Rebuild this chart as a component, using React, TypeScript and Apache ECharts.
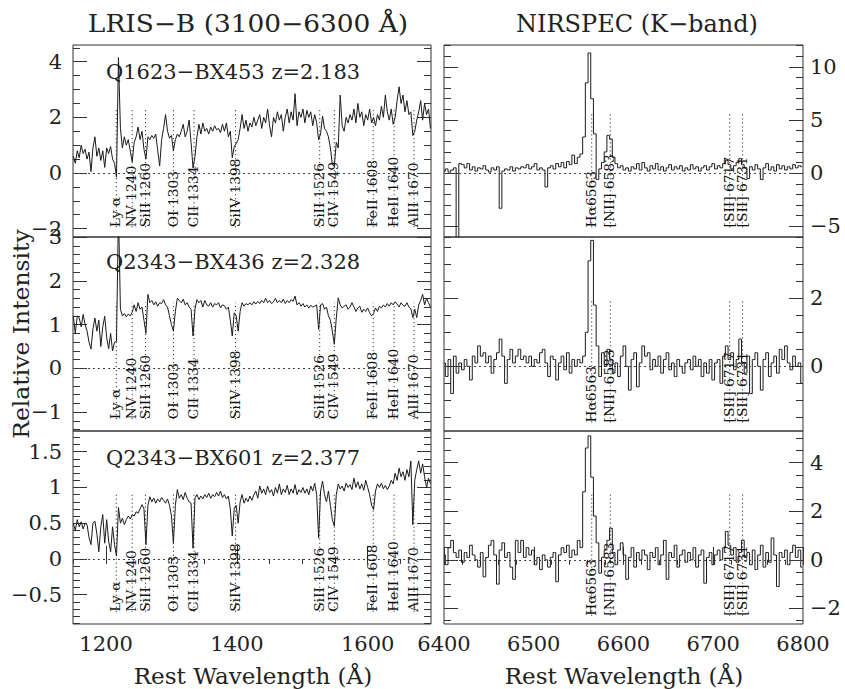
import React, { useEffect, useRef } from "react";
import * as echarts from "echarts";

// Wavelength sampling of the spectra (Angstrom)
const UV_START = 1150;
const UV_STEP = 3;
const NIR_START = 6400;
const NIR_STEP = 3;

// LRIS-B rest-frame UV spectra (relative intensity)
const bx453Uv = [
  0.6, 0.35, 0.8, 0.55, 1.0, 0.7, 0.85, 0.5, 0.75, 0.05,
  0.9, 1.3, 0.6, 0.9, 0.45, 0.8, 0.2, 0.9, 0.7, 0.95,
  0.5, 0.35, -0.15, 4.15, 1.6, 0.9, 1.3, 1.0, 1.2, 0.8,
  0.4, 1.1, 1.3, 1.65, 1.2, 1.5, 0.85, 0.5, 1.3, 1.2,
  1.35, 1.25, 1.4, 0.8, 0.25, 1.2, 1.6, 2.1, 1.5, 1.25,
  1.35, 0.8, 1.2, 1.4, 1.3, 1.5, 1.75, 1.3, 1.5, 1.9,
  1.1, 0.18, 0.6, 1.3, 1.75, 1.4, 1.8, 1.5, 1.6, 1.4,
  1.65, 1.5, 1.7, 1.55, 1.6, 1.45, 1.75, 1.5, 1.8, 1.3,
  1.5, 0.55, 0.95, 1.05, 1.2, 1.6, 2.1, 1.6, 1.9, 1.5,
  1.8, 1.65, 2.0, 1.7, 1.9, 2.1, 1.6, 2.0, 1.8, 2.3,
  1.7, 1.3, 2.0, 1.8, 2.2, 1.9, 2.1, 1.5, 2.0, 2.3,
  1.8, 2.2, 1.9, 2.85, 1.7, 2.2, 2.0, 2.3, 1.8, 2.25,
  2.0, 2.2, 1.7, 2.1, 1.8, 1.2, 1.4, 2.05, 1.6, 1.5,
  1.3, 0.9, 0.3, 0.25, 1.1, 0.9, 2.8, 1.7, 1.5, 2.0,
  1.8, 2.1, 1.9, 2.3, 1.8, 2.5, 2.0, 2.2, 1.7, 2.1,
  1.9, 2.3, 1.8, 2.0, 1.7, 2.1, 1.9, 2.4, 2.0, 2.8,
  2.2, 1.9, 2.3, 1.75, 2.0, 2.6, 3.1, 2.5, 2.8, 2.2,
  2.6, 2.1, 2.2, 1.35, 1.5, 1.9, 2.2, 2.6, 1.9, 2.5,
  2.1, 2.3, 1.6,
];
const bx436Uv = [
  1.2, 0.8, 1.2, 1.15, 0.95, 1.23, 1.0, 0.85, 0.6, 0.44,
  0.9, 1.15, 0.85, 1.1, 0.5, 0.95, 1.19, 0.7, 0.45, 0.8,
  0.4, 0.6, 0.62, 3.6, 1.35, 1.2, 1.25, 1.18, 1.24, 1.2,
  1.28, 1.45, 1.3, 1.5, 1.35, 1.4, 1.1, 0.8, 1.69, 1.5,
  1.55, 1.45, 1.52, 1.42, 1.5, 1.48, 1.57, 1.45, 1.4, 1.2,
  1.0, 0.85, 1.3, 1.6, 1.55, 1.5, 1.58, 1.45, 1.5, 1.4,
  1.35, 0.74, 1.35, 1.57, 1.5, 1.55, 1.4, 1.55, 1.45, 1.42,
  1.5, 1.4, 1.48, 1.45, 1.5, 1.38, 1.45, 1.43, 1.35, 1.4,
  1.1, 0.74, 1.27, 1.2, 0.85, 1.3, 1.5, 1.42, 1.48, 1.45,
  1.5, 1.45, 1.52, 1.47, 1.53, 1.48, 1.55, 1.5, 1.6, 1.5,
  1.55, 1.48, 1.52, 1.6, 1.5, 1.55, 1.5, 1.58, 1.48, 1.55,
  1.5, 1.57, 1.53, 1.65, 1.45, 1.5, 1.42, 1.48, 1.4, 1.45,
  1.38, 1.44, 1.4, 1.42, 1.45, 0.89, 1.45, 1.48, 1.35, 1.4,
  1.2, 1.1, 0.85, 0.55, 1.15, 1.61, 1.45, 1.38, 1.42, 1.45,
  1.35, 1.4, 1.5, 1.4, 1.3, 1.38, 1.42, 1.28, 1.35, 1.3,
  1.38, 1.27, 1.2, 1.25, 1.38, 1.3, 1.42, 1.38, 1.45, 1.4,
  1.48, 1.42, 1.5, 1.45, 1.52, 1.47, 1.4, 1.5, 1.44, 1.42,
  1.5, 1.4, 1.36, 1.16, 1.35, 1.16, 1.45, 1.55, 1.69, 1.45,
  1.6, 1.5, 1.4,
];
const bx601Uv = [
  0.5, 0.4, 0.55, 0.45, 0.52, 0.42, 0.5, 0.48, 0.3, 0.2,
  0.5, 0.53, 0.35, 0.1, 0.45, 0.62, 0.22, 0.55, 0.25, 0.1,
  0.45, 0.2, 0.04, 0.72, 0.5, 0.57, 0.48, 0.55, 0.6, 0.56,
  0.62, 0.6, 0.66, 0.64, 0.7, 0.76, 0.7, 0.2, 0.75, 0.87,
  0.8, 0.85, 0.78, 0.84, 0.8, 0.86, 0.82, 0.78, 0.84, 0.75,
  0.6, 0.22, 0.75, 0.97, 0.85, 0.9, 0.83, 0.93, 0.85, 0.8,
  0.78, 0.15, 0.85, 0.9, 0.83, 0.88, 0.84, 0.9, 0.86, 0.92,
  0.85, 0.9, 0.87, 0.93, 0.88, 0.95, 0.86, 0.9, 0.84, 0.88,
  0.7, 0.32, 0.71, 0.75, 0.5, 0.8, 0.9, 0.78, 0.85, 0.8,
  0.88, 0.82, 0.9, 0.95, 0.85, 1.02, 0.92, 0.98, 0.9, 1.02,
  0.93, 0.97, 0.88, 1.0, 0.92, 1.05, 0.9, 0.98, 0.93, 1.03,
  0.9, 0.98, 0.92, 1.04, 0.9, 0.97, 0.93, 1.0, 0.92, 0.98,
  0.9, 1.02, 0.95, 1.06, 0.9, 0.29, 0.95, 1.09, 0.9, 0.8,
  0.95, 0.75, 0.55, 0.46, 0.9, 1.05, 0.98, 1.02, 0.95, 1.06,
  1.0, 1.04, 0.97, 1.13, 1.0, 1.08, 0.98, 1.05, 0.96, 1.1,
  1.0, 0.9, 0.75, 0.69, 0.95, 1.05, 1.0, 1.06, 0.98, 1.03,
  0.97, 1.02, 1.1, 1.05, 1.2, 1.1, 1.27, 1.15, 1.22, 1.1,
  1.25, 1.15, 1.37, 0.48, 1.1, 1.25, 1.37, 1.2, 1.33, 1.15,
  1.0, 1.13, 1.05,
];

// NIRSPEC K-band spectra around H-alpha
const bx453Nir = [
  0.2, 0.4, 0.1, 0.3, 0.5, -7.5, 0.9, 0.8, 0.5, 0.9,
  0.3, 0.6, 0.2, 0.5, 0.4, 0.7, 0.3, 0.1, 0.5, 0.3,
  0.6, -3.3, 0.2, 0.4, 0.3, 0.6, 0.2, 0.5, 0.4, 0.6,
  0.5, 0.8, 0.4, 0.6, 0.9, 0.3, 0.5, 0.3, -1.3, 0.5,
  0.7, 0.4, 0.9, 0.6, 1.0, 0.5, 1.1, 0.8, 1.7, 0.9,
  1.5, 1.8, 3.4, 8.5, 11.3, 7.0, 3.7, -0.6, 0.4, 1.0,
  2.0, 3.55, 3.2, 1.5, 0.9, 0.5, 0.7, 0.3, 0.5, 0.2,
  0.6, 0.4, 0.9, 0.3, 1.0, 0.5, 0.2, 0.7, 0.4, 0.9,
  0.3, 0.6, 0.2, 0.5, 0.8, 0.3, 0.6, 0.4, 0.7, 0.2,
  0.5, 0.3, 0.8, 0.4, 0.6, 0.2, 0.5, 0.7, 0.3, 0.6,
  0.9, 0.4, 0.7, 0.5, 0.9, 1.2, 0.8, 0.4, 0.7, 1.0,
  1.37, 0.8, 0.5, -0.5, 0.6, 0.3, 0.8, 0.4, -0.6, 0.5,
  0.9, 0.3, 0.6, 0.2, 0.8, 0.4, 0.7, 0.3, 0.6, 0.4,
  0.8, 0.5, 0.7, 0.6,
];
const bx436Nir = [
  0.1, -0.3, 0.2, -0.8, 0.3, -0.2, 0.1, -0.1, 0.2, 0.0,
  -0.4, 0.3, 0.1, 0.6, 0.3, 0.4, 0.1, 0.3, -0.2, 0.2,
  0.4, 0.8, 0.3, -0.5, 0.2, 0.5, 0.1, 0.3, 0.5, 0.2,
  0.3, 0.1, 0.3, 0.0, 0.2, 0.1, 0.4, 0.5, 0.1, -0.3,
  0.3, 0.2, -0.4, 0.1, 0.3, -0.1, 0.4, -0.2, 0.2, 0.0,
  0.2, 0.1, 0.3, 1.0, 3.1, 3.7, 1.8, 0.6, -0.3, 0.4,
  0.0, 0.5, 0.2, -0.2, 0.1, -0.3, 0.3, 0.6, 0.0, -0.7,
  0.2, 0.4, -0.6, 0.1, 0.6, 0.3, 0.4, -0.1, 0.2, 0.0,
  0.3, -0.2, 0.2, 0.4, -0.1, 0.1, -0.3, 0.2, 0.0, -0.2,
  0.1, 0.2, -0.1, 0.3, 0.0, 0.2, -0.3, 0.1, -0.2, 0.2,
  -0.4, 0.1, 0.2, -0.5, 0.3, 0.6, 0.2, 0.4, -0.1, 0.2,
  0.8, 0.1, -0.2, 0.3, -0.8, 0.2, 0.4, 0.0, -0.7, 0.2,
  0.4, -0.3, 0.1, 0.3, -0.2, 0.5, 0.2, 0.6, 0.1, -0.1,
  0.3, 0.0, 0.1, -0.5,
];
const bx601Nir = [
  0.2, -0.2, 0.5, 0.8, 0.3, 0.1, 0.4, -0.1, 0.3, 0.1,
  0.6, 0.2, 0.0, -0.3, 0.3, -0.7, 0.1, 0.6, 0.8, 0.2,
  -1.0, 0.4, 0.7, 0.1, 0.3, -0.3, -0.8, 0.8, 0.3, 0.8,
  0.1, 0.5, 0.2, 0.4, -0.2, 0.1, -0.4, 0.2, 0.0, -0.3,
  0.1, 0.3, -0.9, 0.2, 0.5, 0.3, 0.6, 0.1, 0.4, 0.2,
  0.8, 0.5, 2.8, 4.6, 5.1, 3.4, 1.8, 0.7, -0.55, 0.1,
  0.4, 0.8, 1.3, 0.3, -0.2, 0.4, 0.7, 0.2, -0.8, 0.1,
  0.5, -0.3, 0.3, 0.0, 0.4, 0.2, -0.4, 0.3, 0.1, 0.5,
  -0.2, 0.2, 0.8, -0.8, 0.3, 0.1, 0.6, -0.3, 0.2, 0.4,
  -0.1, 0.3, 0.0, 0.5, -0.3, 0.2, 0.4, -0.96, 0.1, 0.3,
  -0.2, 0.2, 0.4, 0.0, 0.5, 1.17, 0.6, 0.2, 0.5, -0.1,
  0.3, 0.8, 0.1, 0.3, -0.2, 0.4, -0.4, 0.2, 0.6, -0.3,
  0.3, -0.1, 0.9, 0.2, -1.1, 0.3, 0.1, 0.4, -0.2, 0.3,
  0.6, 0.1, 0.4, -0.3,
];

// Spectral feature identifications
const uvLineWaves = [1215.7, 1240, 1260.4, 1303, 1334.5, 1398, 1526.7, 1549, 1608.5, 1640.4, 1670.8];
const uvLineLabels = ["Ly α", "NV 1240", "SiII 1260", "OI 1303", "CII 1334", "SiIV 1398", "SiII 1526", "CIV 1549", "FeII 1608", "HeII 1640", "AlII 1670"];
const nirLineWaves = [6564.6, 6585.3, 6718.3, 6732.7];
const nirLineLabels = ["Hα6563", "[NII] 6583", "[SII] 6717", "[SII] 6731"];

const objectLabels = ["Q1623−BX453 z=2.183", "Q2343−BX436 z=2.328", "Q2343−BX601 z=2.377"];
const columnTitles = ["LRIS−B (3100−6300 Å)", "NIRSPEC (K−band)"];
const xTitle = "Rest Wavelength (Å)";
const yTitle = "Relative Intensity";

const uvTickLabels = [1200, 1400, 1600];
const nirTickLabels = [6400, 6500, 6600, 6700, 6800];

const FONT = "DejaVu Serif";
const INK = "#222";

const rowTops = [45, 237, 431];
const rowHeights = [192, 194, 193];
const colLefts = [73, 444];
const colWidths = [358, 359];

const steps = (a: number, b: number, s: number) => {
  const out: number[] = [];
  for (let k = 0; a + k * s <= b + 1e-9; k++) out.push(Math.round((a + k * s) * 1000) / 1000);
  return out;
};

type Panel = {
  row: number;
  col: number;
  values: number[];
  yMin: number;
  yMax: number;
  yMajor: number[];
  yMinor: number[];
  base: number;
  top: number;
};

const panels: Panel[] = [
  { row: 0, col: 0, values: bx453Uv, yMin: -2.3, yMax: 4.6, yMajor: [-2, 0, 2, 4], yMinor: steps(-2, 4.5, 0.5), base: -1.95, top: 2.35 },
  { row: 0, col: 1, values: bx453Nir, yMin: -6, yMax: 12.05, yMajor: [-5, 0, 5, 10], yMinor: steps(-6, 12, 1), base: -5.1, top: 5.8 },
  { row: 1, col: 0, values: bx436Uv, yMin: -1.43, yMax: 3.0, yMajor: [-1, 0, 1, 2, 3], yMinor: steps(-1.4, 3, 0.2), base: -1.16, top: 1.5 },
  { row: 1, col: 1, values: bx436Nir, yMin: -1.9, yMax: 3.8, yMajor: [0, 2], yMinor: steps(-1.5, 3.5, 0.5), base: -1.65, top: 1.97 },
  { row: 2, col: 0, values: bx601Uv, yMin: -0.91, yMax: 1.79, yMajor: [-0.5, 0, 0.5, 1, 1.5], yMinor: steps(-0.9, 1.7, 0.1), base: -0.74, top: 0.92 },
  { row: 2, col: 1, values: bx601Nir, yMin: -2.64, yMax: 5.3, yMajor: [-2, 0, 2, 4], yMinor: steps(-2.5, 5, 0.5), base: -2.3, top: 2.76 },
];

const fmt = (v: number) => String(v).replace("-", "−");

function buildOption() {
  const grid: any[] = [];
  const xAxis: any[] = [];
  const yAxis: any[] = [];
  const series: any[] = [];
  const tickStyle = { color: "#333", width: 1 };
  const labelStyle = { fontFamily: FONT, fontSize: 21, color: INK };

  panels.forEach((p, g) => {
    const uv = p.col === 0;
    const bottom = p.row === 2;
    grid.push({
      left: colLefts[p.col],
      top: rowTops[p.row],
      width: colWidths[p.col],
      height: rowHeights[p.row],
      show: true,
      borderColor: "#333",
      borderWidth: 1,
      backgroundColor: "transparent",
      outerBoundsMode: "none",
    });
    const xMin = uv ? 1149.5 : 6400;
    const xMax = uv ? 1696.8 : 6800;
    const xMajor = uv ? uvTickLabels : nirTickLabels;
    const xMinor = uv ? steps(1150, 1650, 50) : steps(6400, 6800, 20);
    const xMain = xAxis.length;
    xAxis.push({
      gridIndex: g, type: "value", min: xMin, max: xMax,
      axisLine: { show: false }, splitLine: { show: false },
      axisTick: { show: bottom, inside: true, length: 13, customValues: xMajor, lineStyle: tickStyle },
      axisLabel: { show: bottom, customValues: xMajor, margin: 9, ...labelStyle, formatter: (v: number) => String(v) },
    });
    if (bottom) {
      xAxis.push({
        gridIndex: g, type: "value", min: xMin, max: xMax,
        axisLine: { show: false }, splitLine: { show: false },
        axisTick: { show: true, inside: true, length: 5, customValues: xMinor, lineStyle: tickStyle },
        axisLabel: { show: false },
      });
    }
    const yMain = yAxis.length;
    (["left", "right"] as const).forEach((side) => {
      const showLab = (side === "left" && uv) || (side === "right" && !uv);
      yAxis.push({
        gridIndex: g, type: "value", position: side, min: p.yMin, max: p.yMax,
        axisLine: { show: false }, splitLine: { show: false },
        axisTick: { show: true, inside: true, length: 14, customValues: p.yMajor, lineStyle: tickStyle },
        axisLabel: { show: showLab, customValues: p.yMajor, margin: side === "left" ? 11 : 7, ...labelStyle, formatter: fmt },
      });
      yAxis.push({
        gridIndex: g, type: "value", position: side, min: p.yMin, max: p.yMax,
        axisLine: { show: false }, splitLine: { show: false },
        axisTick: { show: true, inside: true, length: 7, customValues: p.yMinor, lineStyle: tickStyle },
        axisLabel: { show: false },
      });
    });

    const start = uv ? UV_START : NIR_START;
    const step = uv ? UV_STEP : NIR_STEP;
    series.push({
      type: "line",
      xAxisIndex: xMain,
      yAxisIndex: yMain,
      data: p.values.map((v, i) => [start + i * step, v]),
      symbol: "none",
      showSymbol: false,
      step: uv ? false : "middle",
      clip: true,
      lineStyle: { color: "#1a1a1a", width: 1 },
      silent: true,
      markLine: {
        silent: true,
        symbol: "none",
        label: { show: false },
        lineStyle: { type: [2, 3], color: "#444", width: 1 },
        data: [{ yAxis: 0 }],
      },
    });

    const waves = uv ? uvLineWaves : nirLineWaves;
    const labels = uv ? uvLineLabels : nirLineLabels;
    series.push({
      type: "custom",
      xAxisIndex: xMain,
      yAxisIndex: yMain,
      silent: true,
      data: waves.map((w) => [w, p.base, p.top]),
      renderItem: (params: any, api: any) => {
        const a = api.coord([api.value(0), api.value(1)]);
        const b = api.coord([api.value(0), api.value(2)]);
        return {
          type: "group",
          children: [
            {
              type: "line",
              shape: { x1: a[0], y1: a[1], x2: b[0], y2: b[1] },
              style: { stroke: "#333", lineWidth: 1, lineDash: [1.2, 2.8] },
            },
            {
              type: "text",
              x: a[0],
              y: a[1],
              rotation: Math.PI / 2,
              scaleX: 1.15,
              style: {
                text: labels[params.dataIndex],
                fontFamily: FONT,
                fontSize: 12,
                fill: "#111",
                align: "left",
                verticalAlign: "middle",
              },
            },
          ],
        };
      },
    });
  });

  const txt = (text: string, x: number, y: number, size: number, align: string, extra: any = {}) => ({
    type: "text",
    x,
    y,
    silent: true,
    ...extra,
    style: {
      text,
      fontFamily: FONT,
      fontSize: size,
      fill: INK,
      align,
      verticalAlign: "middle",
      textAlign: align,
      textVerticalAlign: "middle",
    },
  });

  const graphic = [
    txt(columnTitles[0], 248, 24, 24, "center", { scaleX: 1.1 }),
    txt(columnTitles[1], 637, 24, 24, "center", { scaleX: 1.0 }),
    txt(yTitle, 21, 334, 23, "center", { rotation: Math.PI / 2, scaleX: 1.02 }),
    txt(xTitle, 253, 676, 22, "center", { scaleX: 1.05 }),
    txt(xTitle, 624, 676, 22, "center", { scaleX: 1.05 }),
    txt(objectLabels[0], 106, 72, 21, "left"),
    txt(objectLabels[1], 106, 262, 21, "left"),
    txt(objectLabels[2], 106, 458, 21, "left"),
  ];

  return {
    animation: false,
    backgroundColor: "#fff",
    grid,
    xAxis,
    yAxis,
    series,
    graphic,
  };
}

export default function App() {
  const ref = useRef<HTMLDivElement>(null);
  useEffect(() => {
    if (!ref.current) return;
    const chart = echarts.init(ref.current, undefined, { renderer: "svg" });
    chart.setOption(buildOption() as any);
    return () => chart.dispose();
  }, []);
  return (
    <div
      ref={ref}
      style={{ position: "absolute", left: 0, top: 0, width: 845, height: 689, background: "#fff" }}
    />
  );
}
